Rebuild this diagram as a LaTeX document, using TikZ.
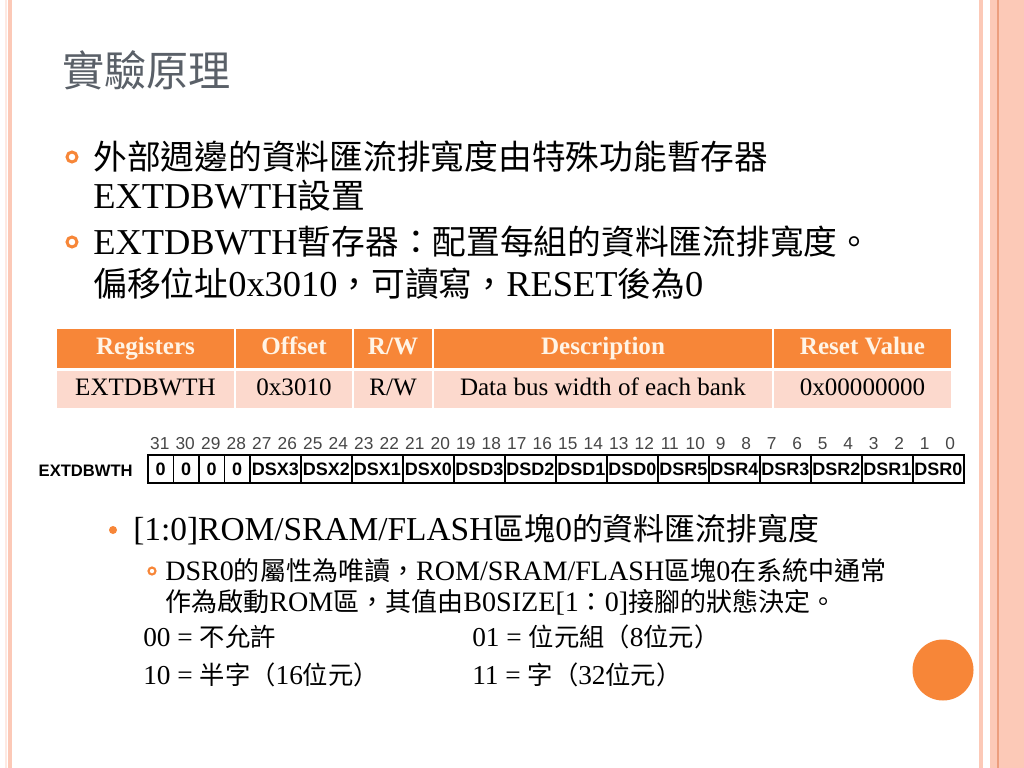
\documentclass[tikz,border=0pt]{standalone}
\usepackage{fontspec}
\usepackage{tikz}
\setmainfont{Liberation Serif}[Scale=1.08]
\setsansfont{Liberation Sans}
\newfontfamily\cjk{Noto Sans CJK TC}
\newcommand\zh[1]{{\cjk #1}}
\newcommand\px{0.025cm}

\definecolor{slideorange}{RGB}{247,134,56}
\definecolor{rowpink}{RGB}{252,217,205}
\definecolor{stripe}{RGB}{252,201,183}
\definecolor{stripeline}{RGB}{236,158,126}
\definecolor{titlegray}{RGB}{90,96,104}
\definecolor{headtext}{RGB}{255,244,230}
\definecolor{bitgray}{RGB}{70,70,70}

\tikzset{
  txt/.style={anchor=west, inner sep=0pt},
  ring/.style={circle, draw=slideorange, line width=2.1pt, minimum size=10*\px, inner sep=0pt},
  hcell/.style={fill=slideorange, draw=white, line width=1.2pt, minimum height=41*\px,
    inner sep=0pt, text height=12pt, text depth=4pt, text=headtext,
    font=\fontsize{16.5}{19}\selectfont\bfseries},
  dcell/.style={fill=rowpink, draw=white, line width=1.2pt, minimum height=39*\px,
    inner sep=0pt, text height=12pt, text depth=4pt, font=\fontsize{16.5}{19}\selectfont},
  field/.style={draw, line width=1.4pt, minimum height=28*\px, inner sep=0pt, anchor=west,
    text height=9.5pt, text depth=0pt, font=\sffamily\bfseries\fontsize{12.8}{14}\selectfont},
  bitnum/.style={inner sep=0pt, text height=9pt, text depth=0pt, text=bitgray,
    font=\sffamily\fontsize{12.3}{14}\selectfont}
}

\begin{document}
\begin{tikzpicture}[x=0.025cm, y=-0.025cm]
  \useasboundingbox (0,0) rectangle (1024,768);
  \fill[white] (0,0) rectangle (1024,768);

  % side stripes
  \fill[stripe!40] (5,0) rectangle (7,768);
  \fill[stripe] (8,0) rectangle (12,768);
  \fill[stripe] (979,0) rectangle (983,768);
  \fill[stripe] (990,0) rectangle (1024,768);
  \draw[stripeline, line width=0.8pt] (998,0) -- (998,768);

  % title
  \node[txt, text=titlegray, font=\cjk\fontsize{30}{34}\selectfont] (title) at (62,70) {實驗原理};

  % bullets
  \node[ring] (ra) at (72,157) {};
  \node[txt, font=\fontsize{24}{28}\selectfont] (pa1) at (93,157) {\zh{外部週邊的資料匯流排寬度由特殊功能暫存器}};
  \node[txt, font=\fontsize{24}{28}\selectfont] (pa2) at (93,196) {EXTDBWTH\zh{設置}};
  \node[ring] (rb) at (72,242) {};
  \node[txt, font=\fontsize{24}{28}\selectfont] (pb1) at (93,242) {EXTDBWTH\zh{暫存器：配置每組的資料匯流排寬度。}};
  \node[txt, font=\fontsize{24}{28}\selectfont] (pb2) at (93,284) {\zh{偏移位址}0x3010\zh{，可讀寫，}RESET\zh{後為}0};

  % register table
  \node[hcell, minimum width=179*\px] (hreg) at (145.5,348.5) {Registers};
  \node[hcell, minimum width=118*\px] (hoff) at (294,348.5) {Offset};
  \node[hcell, minimum width=80*\px] (hrw) at (393,348.5) {R/W};
  \node[hcell, minimum width=340*\px] (hdes) at (603,348.5) {Description};
  \node[hcell, minimum width=179*\px] (hrst) at (862.5,348.5) {Reset Value};
  \node[dcell, minimum width=179*\px] (dreg) at (145.5,389.5) {EXTDBWTH};
  \node[dcell, minimum width=118*\px] (doff) at (294,389.5) {0x3010};
  \node[dcell, minimum width=80*\px] (drw) at (393,389.5) {R/W};
  \node[dcell, minimum width=340*\px] (ddes) at (603,389.5) {Data bus width of each bank};
  \node[dcell, minimum width=179*\px] (drst) at (862.5,389.5) {0x00000000};

  % bit fields
  \node[anchor=east, inner sep=0pt, font=\sffamily\bfseries\fontsize{11.8}{13}\selectfont] (rname) at (133,471) {EXTDBWTH};
  \foreach \b in {0,...,31}
    \node[bitnum] (b\b) at ({147+(31-\b+0.5)*25.5},443) {\b};
  \foreach \lbl/\hi/\n [count=\i] in {0/31/1, 0/30/1, 0/29/1, 0/28/1, DSX3/27/2, DSX2/25/2,
      DSX1/23/2, DSX0/21/2, DSD3/19/2, DSD2/17/2, DSD1/15/2, DSD0/13/2, DSR5/11/2,
      DSR4/9/2, DSR3/7/2, DSR2/5/2, DSR1/3/2, DSR0/1/2}
    \node[field, minimum width={\n*25.5*\px}] (f\i) at ({147+(31-\hi)*25.5},469) {\lbl};

  % sub bullets
  \node[circle, fill=slideorange, minimum size=8*\px, inner sep=0pt] (dot) at (113,530) {};
  \node[txt, font=\fontsize{22}{26}\selectfont] (sub) at (133,530) {[1:0]ROM/SRAM/FLASH\zh{區塊}0\zh{的資料匯流排寬度}};
  \node[ring, minimum size=7*\px, line width=1.5pt] (rc) at (152,571) {};
  \node[txt, font=\fontsize{18.5}{22}\selectfont] (ssa) at (165,571) {DSR0\zh{的屬性為唯讀，}ROM/SRAM/FLASH\zh{區塊}0\zh{在系統中通常}};
  \node[txt, font=\fontsize{18.5}{22}\selectfont] (ssb) at (165,602) {\zh{作為啟動}ROM\zh{區，其值由}B0SIZE[1\zh{：}0]\zh{接腳的狀態決定。}};

  % encodings
  \node[txt, font=\fontsize{18}{22}\selectfont] (c00) at (143,637) {00 = \zh{不允許}};
  \node[txt, font=\fontsize{18}{22}\selectfont] (c01) at (472,637) {01 = \zh{位元組（}8\zh{位元）}};
  \node[txt, font=\fontsize{18}{22}\selectfont] (c10) at (143,675) {10 = \zh{半字（}16\zh{位元）}};
  \node[txt, font=\fontsize{18}{22}\selectfont] (c11) at (472,675) {11 = \zh{字（}32\zh{位元）}};

  % corner disc
  \node[circle, fill=slideorange, minimum size=61*\px, inner sep=0pt] (deco) at (943,670) {};
\end{tikzpicture}
\end{document}
